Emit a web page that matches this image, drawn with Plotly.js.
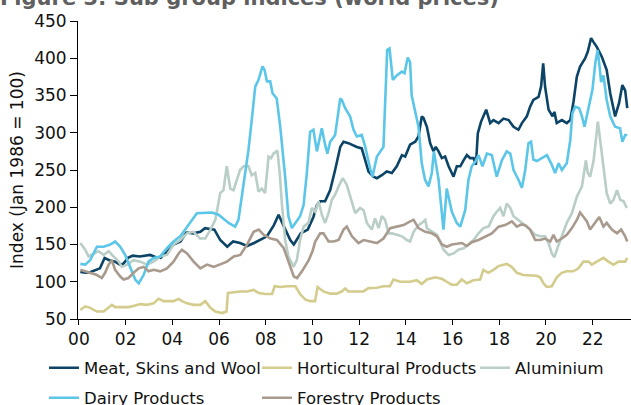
<!DOCTYPE html>
<html>
<head>
<meta charset="utf-8">
<script src="https://cdn.plot.ly/plotly-3.0.1.min.js"></script>
<style>html,body{margin:0;padding:0;background:#fff;}#chart{width:631px;height:405px;}</style>
</head>
<body>
<div id="chart"></div>
<script>
// Tick labels
const tickYears = [2000, 2002, 2004, 2006, 2008, 2010, 2012, 2014, 2016, 2018, 2020, 2022];
const tickLabels = ["00", "02", "04", "06", "08", "10", "12", "14", "16", "18", "20", "22"];

// Series names
const seriesNames = ["Meat, Skins and Wool", "Horticultural Products", "Aluminium", "Dairy Products", "Forestry Products"];

// Meat, Skins and Wool
const meatYears = [2000.06,2000.3,2000.5,2000.9,2001.1,2001.3,2001.55,2001.75,2001.9,2002.1,2002.3,2002.6,2003.05,2003.3,2003.5,2003.8,2004.05,2004.35,2004.6,2004.9,2005.2,2005.4,2005.8,2006.05,2006.35,2006.6,2006.9,2007.2,2007.5,2007.75,2008.05,2008.35,2008.55,2008.75,2009.05,2009.2,2009.5,2009.8,2010.04,2010.19,2010.33,2010.54,2010.76,2010.97,2011.19,2011.33,2011.54,2011.9,2012.11,2012.26,2012.4,2012.61,2012.76,2012.97,2013.18,2013.4,2013.61,2013.83,2013.97,2014.18,2014.4,2014.54,2014.68,2014.75,2014.9,2015.04,2015.18,2015.28,2015.4,2015.54,2015.68,2015.83,2016.04,2016.18,2016.33,2016.47,2016.61,2016.75,2016.9,2017.0,2017.08,2017.22,2017.44,2017.61,2017.75,2017.97,2018.18,2018.4,2018.61,2018.82,2018.97,2019.18,2019.32,2019.46,2019.68,2019.79,2019.88,2019.96,2020.11,2020.28,2020.36,2020.46,2020.68,2020.89,2021.04,2021.18,2021.32,2021.46,2021.68,2021.79,2021.93,2022.03,2022.18,2022.39,2022.6,2022.75,2022.96,2023.13,2023.27,2023.39,2023.48];
const meatValues = [113,112,113,118,132,129,127,123,124,132,135,134,136,133,132,141,150,154,166,165,167,172,170,156,147,154,152,148,152,156,161,176,190,176,156,150,165,170,187,203,208,208,223,250,281,288,286,281,279,263,248,241,239,243,248,246,255,270,268,284,288,295,322,320,308,286,275,281,275,266,268,255,241,255,255,263,270,266,266,257,299,315,331,313,317,313,319,317,308,304,313,322,335,344,348,362,393,362,331,322,328,313,317,313,317,342,375,389,400,409,427,422,415,402,384,353,322,340,364,357,333];

// Horticultural Products
const hortYears = [2000.06,2000.27,2000.48,2000.77,2001.06,2001.27,2001.41,2001.55,2001.84,2002.13,2002.41,2002.63,2002.91,2003.2,2003.41,2003.63,2003.84,2004.05,2004.27,2004.41,2004.63,2004.91,2005.2,2005.41,2005.63,2005.84,2006.13,2006.32,2006.38,2006.63,2006.91,2007.2,2007.48,2007.7,2007.98,2008.27,2008.38,2008.63,2008.91,2009.27,2009.48,2009.7,2009.91,2010.11,2010.22,2010.47,2010.76,2011.04,2011.26,2011.4,2011.54,2011.9,2012.18,2012.4,2012.75,2013.04,2013.32,2013.47,2013.75,2014.18,2014.47,2014.68,2014.9,2015.25,2015.54,2015.75,2015.96,2016.18,2016.39,2016.61,2016.89,2017.18,2017.32,2017.53,2017.75,2017.96,2018.32,2018.53,2018.75,2019.03,2019.32,2019.6,2019.75,2019.89,2020.03,2020.25,2020.46,2020.67,2020.89,2021.17,2021.39,2021.6,2021.82,2021.96,2022.17,2022.46,2022.67,2022.89,2023.1,2023.39,2023.48];
const hortValues = [62,67,65,60,60,65,69,66,66,66,68,70,69,71,77,74,74,74,77,74,71,69,69,74,65,60,58,60,85,86,87,87,89,85,83.5,83.5,94,93,94,94,83,76,74,74,93,87,84,84,87,91,87,87,87,91.5,92,94,94,103,100,100,102,97,103,106,104,100,96,96,103,98,102,103,116,112,116,121,124,120,112,109,109,108,106,98,93,94,106,112,114,114,118,127,127,123,127,132,127,123,127,127,132];

// Aluminium
const aluYears = [2000.06,2000.27,2000.41,2000.63,2000.84,2001.06,2001.27,2001.48,2001.7,2001.84,2002.06,2002.34,2002.63,2002.91,2003.2,2003.48,2003.77,2004.05,2004.34,2004.63,2004.91,2005.19,2005.41,2005.63,2005.84,2006.05,2006.19,2006.33,2006.48,2006.62,2006.76,2006.9,2007.05,2007.26,2007.4,2007.55,2007.69,2007.83,2007.97,2008.12,2008.23,2008.33,2008.5,2008.6,2008.69,2008.83,2008.97,2009.09,2009.19,2009.33,2009.47,2009.62,2009.83,2009.97,2010.12,2010.26,2010.4,2010.54,2010.69,2010.83,2010.97,2011.12,2011.3,2011.47,2011.69,2011.83,2012.04,2012.19,2012.33,2012.54,2012.68,2012.83,2012.97,2013.11,2013.26,2013.4,2013.61,2013.83,2014.04,2014.18,2014.33,2014.54,2014.68,2014.83,2014.9,2015.11,2015.33,2015.47,2015.61,2015.83,2016.04,2016.25,2016.47,2016.68,2016.9,2017.11,2017.32,2017.54,2017.75,2017.89,2018.04,2018.18,2018.32,2018.47,2018.61,2018.82,2019.11,2019.32,2019.54,2019.75,2019.96,2020.11,2020.25,2020.36,2020.51,2020.68,2020.89,2021.11,2021.32,2021.54,2021.71,2021.79,2021.89,2022.04,2022.22,2022.32,2022.46,2022.6,2022.75,2022.89,2023.04,2023.18,2023.32,2023.46];
const aluValues = [152,143,134,138,141,136,141,134,127,120,123,129,127,123,127,134,136,150,156,165,167,158,158,170,183,219,223,255,225,223,237,250,255,255,243,246,221,225,219,268,266,272,276,245,205,156,134,125,120,129,156,174,179,199,194,208,190,179,192,210,217,228,239,230,208,192,199,196,179,170,185,172,188,183,165,165,163,161,156,154,167,176,179,183,172,167,163,154,143,136,138,143,145,150,156,165,172,174,188,194,199,188,205,199,188,183,176,170,163,161,161,152,138,133,147,161,179,192,214,228,263,246,241,263,315,290,250,219,205,210,223,210,208,199];

// Dairy Products
const dairyYears = [2000.06,2000.27,2000.48,2000.77,2001.06,2001.34,2001.55,2001.77,2001.98,2002.2,2002.41,2002.56,2002.77,2002.98,2003.2,2003.48,2003.77,2004.05,2004.34,2004.55,2004.84,2005.05,2005.69,2005.98,2006.41,2006.69,2006.83,2007.05,2007.26,2007.4,2007.55,2007.69,2007.86,2007.95,2008.05,2008.19,2008.29,2008.47,2008.62,2008.83,2008.97,2009.12,2009.26,2009.47,2009.62,2009.76,2009.9,2010.04,2010.19,2010.4,2010.54,2010.64,2010.76,2010.97,2011.19,2011.26,2011.4,2011.61,2011.76,2011.9,2012.11,2012.26,2012.47,2012.57,2012.76,2013.04,2013.2,2013.3,2013.44,2013.61,2013.83,2013.94,2014.08,2014.18,2014.25,2014.4,2014.54,2014.68,2014.82,2014.97,2015.11,2015.2,2015.4,2015.61,2015.75,2015.97,2016.18,2016.33,2016.54,2016.68,2016.82,2016.97,2017.11,2017.28,2017.47,2017.68,2017.89,2018.11,2018.32,2018.47,2018.61,2018.82,2018.97,2019.11,2019.25,2019.36,2019.46,2019.61,2019.82,2020.04,2020.22,2020.39,2020.54,2020.68,2020.89,2021.04,2021.13,2021.25,2021.42,2021.54,2021.65,2021.82,2021.99,2022.11,2022.21,2022.28,2022.36,2022.46,2022.6,2022.75,2022.96,2023.17,2023.27,2023.39,2023.48];
const dairyValues = [124,123,129,147,147,150,154,147,136,120,103,98,109,127,132,134,145,154,161,170,183,192,193,190,179,174,183,228,277,317,362,371,389,384,369,369,353,346,308,241,188,172,179,188,203,246,301,304,275,306,284,272,288,297,346,344,333,322,304,295,297,281,252,241,268,281,411,413,371,377,382,380,401,395,350,330,308,259,237,228,246,275,237,170,225,194,179,174,196,237,255,261,270,255,272,270,241,263,275,272,250,237,226,250,286,288,264,262,266,270,259,246,259,250,259,290,326,335,333,322,308,335,358,393,411,393,368,377,344,322,308,306,288,297,297];

// Forestry Products
const forYears = [2000.06,2000.27,2000.48,2000.77,2000.98,2001.12,2001.27,2001.41,2001.55,2001.77,2001.91,2002.12,2002.34,2002.56,2002.77,2002.98,2003.2,2003.48,2003.77,2004.05,2004.27,2004.41,2004.63,2004.91,2005.2,2005.48,2005.77,2006.05,2006.34,2006.63,2006.91,2007.2,2007.48,2007.7,2007.91,2008.2,2008.48,2008.77,2008.98,2009.2,2009.34,2009.55,2009.84,2010.0,2010.12,2010.33,2010.47,2010.69,2010.9,2011.12,2011.33,2011.47,2011.69,2011.97,2012.19,2012.47,2012.76,2013.04,2013.33,2013.61,2013.9,2014.18,2014.33,2014.54,2014.83,2015.11,2015.33,2015.54,2015.75,2015.97,2016.18,2016.4,2016.61,2016.82,2017.11,2017.4,2017.68,2017.97,2018.25,2018.54,2018.75,2018.95,2019.11,2019.32,2019.54,2019.75,2019.96,2020.18,2020.32,2020.46,2020.68,2020.89,2021.11,2021.32,2021.46,2021.61,2021.75,2021.89,2022.11,2022.28,2022.46,2022.6,2022.82,2023.04,2023.22,2023.39,2023.48];
const forValues = [116,114,112,109,105,112,123,129,116,107,103,105,112,118,120,114,116,114,118,127,138,143,138,127,118,123,120,123,127,134,136,150,167,170,163,158,156,145,125,107,105,114,129,141,154,165,165,154,154,156,170,174,161,152,156,154,152,158,172,174,176,181,183,172,167,165,161,150,147,150,151,152,148,153,156,161,165,174,176,181,174,177,176,170,156,156,158,154,163,154,158,163,172,183,193,187,181,170,179,187,174,179,170,165,170,161,154];

const colors = ["#0b4466", "#d4cc8c", "#b9cec6", "#5bc6e8", "#a99a8e"];
const font = "DejaVu Sans, Verdana, sans-serif";

function mk(i, xs, ys, legendId) {
  return {
    type: "scatter", mode: "lines", name: seriesNames[i], x: xs, y: ys,
    line: {color: colors[i], width: 2.6}, legend: legendId, hoverinfo: "skip"
  };
}

const hortTrace = mk(1, hortYears, hortValues, "legend");
hortTrace.legendwidth = 190;

const data = [
  mk(0, meatYears, meatValues, "legend"),
  hortTrace,
  mk(2, aluYears, aluValues, "legend3"),
  mk(3, dairyYears, dairyValues, "legend2"),
  mk(4, forYears, forValues, "legend2")
];

const legendCommon = {
  orientation: "h", xref: "container", yref: "container", xanchor: "left", yanchor: "top",
  entrywidth: 168, entrywidthmode: "pixels", itemwidth: 30,
  font: {family: font, size: 16.5, color: "#111"}, bgcolor: "rgba(0,0,0,0)", borderwidth: 0
};

const layout = {
  width: 631, height: 405,
  margin: {l: 78, r: 0, t: 21, b: 86, autoexpand: false},
  paper_bgcolor: "#fff", plot_bgcolor: "#fff",
  font: {family: font, size: 17, color: "#111"},
  showlegend: true,
  xaxis: {
    range: [1999.96, 2023.64], tickmode: "array", tickvals: tickYears, ticktext: tickLabels,
    showgrid: false, zeroline: false, showline: true, linecolor: "#000", linewidth: 1,
    ticks: "outside", ticklen: 5, tickcolor: "#000", tickwidth: 1,
    tickfont: {family: font, size: 17, color: "#111"}
  },
  yaxis: {
    range: [50, 450], tickmode: "array", tickvals: [50,100,150,200,250,300,350,400,450],
    showgrid: false, zeroline: false, showline: true, linecolor: "#000", linewidth: 1,
    ticks: "outside", ticklen: 7, tickcolor: "#000", tickwidth: 1,
    tickfont: {family: font, size: 17, color: "#111"},
    title: {text: "Index (Jan 1986 = 100)", font: {family: font, size: 17, color: "#111"}, standoff: 6}
  },
  legend: Object.assign({}, legendCommon, {x: 0.0697, y: 0.1346}),
  legend3: Object.assign({}, legendCommon, {x: 0.7528, y: 0.1346, entrywidth: 100}),
  legend2: Object.assign({}, legendCommon, {x: 0.0697, y: 0.0605}),
  annotations: [{
    text: "<b>Figure 3: Sub group indices (world prices)</b>",
    xref: "paper", yref: "paper", x: -0.144, y: 1.03, xanchor: "left", yanchor: "bottom",
    showarrow: false, font: {family: font, size: 21, color: "#5f5f5f"}
  }]
};

Plotly.newPlot("chart", data, layout, {staticPlot: true, displayModeBar: false});
</script>
</body>
</html>
